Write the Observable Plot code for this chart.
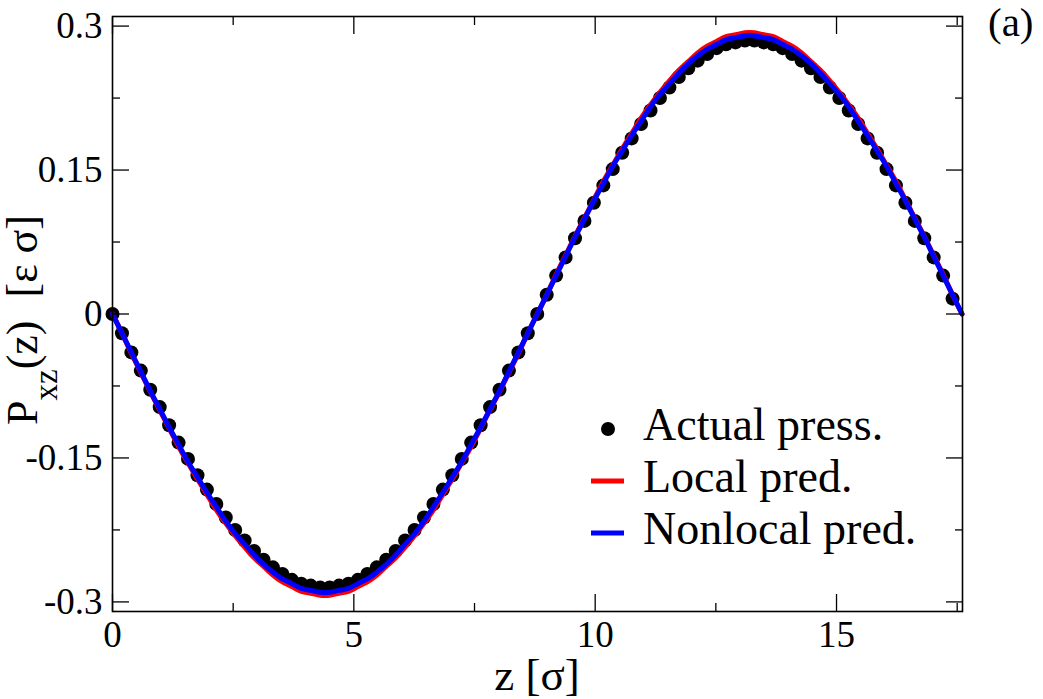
<!DOCTYPE html>
<html>
<head>
<meta charset="utf-8">
<script src="https://cdn.jsdelivr.net/npm/d3@7"></script>
<script src="https://cdn.jsdelivr.net/npm/@observablehq/plot@0.6"></script>
<style>
  html, body { margin: 0; padding: 0; background: white; }
  svg text { white-space: pre; }
</style>
</head>
<body>
<div id="chart"></div>
<script>
// z positions [σ]
const zValues = [0, 0.196, 0.391, 0.587, 0.782, 0.978, 1.173, 1.369, 1.564, 1.760, 1.956, 2.151, 2.347, 2.542, 2.738, 2.933, 3.129, 3.324, 3.520, 3.716, 3.911, 4.107, 4.302, 4.498, 4.693, 4.889, 5.084, 5.280, 5.476, 5.671, 5.867, 6.062, 6.258, 6.453, 6.649, 6.844, 7.040, 7.236, 7.431, 7.627, 7.822, 8.018, 8.213, 8.409, 8.604, 8.800, 8.996, 9.191, 9.387, 9.582, 9.778, 9.973, 10.169, 10.364, 10.560, 10.756, 10.951, 11.147, 11.342, 11.538, 11.733, 11.929, 12.124, 12.320, 12.516, 12.711, 12.907, 13.102, 13.298, 13.493, 13.689, 13.884, 14.080, 14.276, 14.471, 14.667, 14.862, 15.058, 15.253, 15.449, 15.644, 15.840, 16.036, 16.231, 16.427, 16.622, 16.818, 17.013, 17.209, 17.404, 17.600];

// Actual pressure (dots; no sample at the last z)
const actualPress = [0, -0.020, -0.040, -0.059, -0.079, -0.097, -0.116, -0.134, -0.151, -0.168, -0.183, -0.198, -0.212, -0.225, -0.236, -0.247, -0.256, -0.264, -0.271, -0.277, -0.281, -0.283, -0.285, -0.285, -0.283, -0.281, -0.277, -0.271, -0.264, -0.256, -0.247, -0.236, -0.225, -0.212, -0.198, -0.183, -0.168, -0.151, -0.134, -0.116, -0.097, -0.079, -0.059, -0.040, -0.020, 0,
  0.020, 0.040, 0.059, 0.079, 0.097, 0.116, 0.134, 0.151, 0.168, 0.183, 0.198, 0.212, 0.225, 0.236, 0.247, 0.256, 0.264, 0.271, 0.277, 0.281, 0.283, 0.285, 0.285, 0.283, 0.281, 0.277, 0.271, 0.264, 0.256, 0.247, 0.236, 0.225, 0.212, 0.198, 0.183, 0.168, 0.151, 0.134, 0.116, 0.097, 0.079, 0.059, 0.040, 0.016];

// Local prediction (red line)
const localPred = [0, -0.020, -0.041, -0.061, -0.081, -0.100, -0.119, -0.138, -0.155, -0.172, -0.188, -0.204, -0.218, -0.231, -0.243, -0.254, -0.263, -0.272, -0.279, -0.284, -0.289, -0.291, -0.293, -0.293, -0.291, -0.289, -0.284, -0.279, -0.272, -0.263, -0.254, -0.243, -0.231, -0.218, -0.204, -0.188, -0.172, -0.155, -0.138, -0.119, -0.100, -0.081, -0.061, -0.041, -0.020, 0,
  0.020, 0.041, 0.061, 0.081, 0.100, 0.119, 0.138, 0.155, 0.172, 0.188, 0.204, 0.218, 0.231, 0.243, 0.254, 0.263, 0.272, 0.279, 0.284, 0.289, 0.291, 0.293, 0.293, 0.291, 0.289, 0.284, 0.279, 0.272, 0.263, 0.254, 0.243, 0.231, 0.218, 0.204, 0.188, 0.172, 0.155, 0.138, 0.119, 0.100, 0.081, 0.061, 0.041, 0.020, 0];

// Nonlocal prediction (blue line)
const nonlocalPred = [0, -0.020, -0.040, -0.060, -0.080, -0.099, -0.118, -0.136, -0.154, -0.170, -0.186, -0.201, -0.216, -0.229, -0.240, -0.251, -0.261, -0.269, -0.276, -0.281, -0.286, -0.288, -0.290, -0.290, -0.288, -0.286, -0.281, -0.276, -0.269, -0.261, -0.251, -0.240, -0.229, -0.216, -0.201, -0.186, -0.170, -0.154, -0.136, -0.118, -0.099, -0.080, -0.060, -0.040, -0.020, 0,
  0.020, 0.040, 0.060, 0.080, 0.099, 0.118, 0.136, 0.154, 0.170, 0.186, 0.201, 0.216, 0.229, 0.240, 0.251, 0.261, 0.269, 0.276, 0.281, 0.286, 0.288, 0.290, 0.290, 0.288, 0.286, 0.281, 0.276, 0.269, 0.261, 0.251, 0.240, 0.229, 0.216, 0.201, 0.186, 0.170, 0.154, 0.136, 0.118, 0.099, 0.080, 0.060, 0.040, 0.020, 0];

const xMajorTicks = [0, 5, 10, 15];
const xMinorTicks = [2.5, 7.5, 12.5, 17.5];
const yMajorTicks = [-0.3, -0.15, 0, 0.15, 0.3];
const yMinorTicks = [-0.225, -0.075, 0.075, 0.225];
const legendLabels = ["Actual press.", "Local pred.", "Nonlocal pred."];
const seriesColors = ["black", "#ff0000", "#0000ff"];

const dotsData = actualPress.map((p, i) => ({z: zValues[i], p}));
const localData = zValues.map((z, i) => ({z, p: localPred[i]}));
const nonlocalData = zValues.map((z, i) => ({z, p: nonlocalPred[i]}));

const font = "'Liberation Serif', 'Times New Roman', serif";

const plot = Plot.plot({
  width: 1043,
  height: 699,
  marginLeft: 112,
  marginRight: 81,
  marginTop: 16,
  marginBottom: 88,
  style: {fontFamily: font, fontSize: "37px", color: "black", background: "white", overflow: "visible"},
  x: {domain: [0, 17.61], label: null},
  y: {domain: [-0.31, 0.31], label: null},
  marks: [
    Plot.dot(dotsData, {x: "z", y: "p", r: 7, fill: seriesColors[0], stroke: null}),
    Plot.line(localData, {x: "z", y: "p", stroke: seriesColors[1], strokeWidth: 5, curve: "natural"}),
    Plot.line(nonlocalData, {x: "z", y: "p", stroke: seriesColors[2], strokeWidth: 5, curve: "natural"}),
    // labels
    Plot.axisX({ticks: xMajorTicks, tickSize: 0, tickPadding: 9, fontSize: 37, tickFormat: d => String(d), label: null}),
    Plot.axisY({ticks: yMajorTicks, tickSize: 0, tickPadding: 10, fontSize: 37, tickFormat: d => String(d), label: null}),
    // inward ticks, all four sides
    Plot.axisX({anchor: "bottom", ticks: xMajorTicks, tickSize: -17, text: null, label: null, strokeWidth: 1.3}),
    Plot.axisX({anchor: "bottom", ticks: xMinorTicks, tickSize: -8, text: null, label: null, strokeWidth: 1.3}),
    Plot.axisX({anchor: "top", ticks: xMajorTicks, tickSize: -17, text: null, label: null, strokeWidth: 1.3}),
    Plot.axisX({anchor: "top", ticks: xMinorTicks, tickSize: -8, text: null, label: null, strokeWidth: 1.3}),
    Plot.axisY({anchor: "left", ticks: yMajorTicks, tickSize: -17, text: null, label: null, strokeWidth: 1.3}),
    Plot.axisY({anchor: "left", ticks: yMinorTicks, tickSize: -8, text: null, label: null, strokeWidth: 1.3}),
    Plot.axisY({anchor: "right", ticks: yMajorTicks, tickSize: -17, text: null, label: null, strokeWidth: 1.3}),
    Plot.axisY({anchor: "right", ticks: yMinorTicks, tickSize: -8, text: null, label: null, strokeWidth: 1.3}),
    Plot.frame({stroke: "black", strokeWidth: 1.6})
  ]
});

document.getElementById("chart").appendChild(plot);

const svg = d3.select(plot);

// x-axis title
svg.append("text")
  .attr("x", 537).attr("y", 690)
  .attr("text-anchor", "middle")
  .attr("font-family", font).attr("font-size", 45).attr("fill", "black")
  .text("z [σ]");

// y-axis title with subscript
const yl = svg.append("text")
  .attr("transform", "translate(37,425) rotate(-90)")
  .attr("text-anchor", "start")
  .attr("font-family", font).attr("font-size", 44).attr("fill", "black");
yl.append("tspan").text("P");
yl.append("tspan").attr("font-size", 33).attr("dy", 20).text("xz");
yl.append("tspan").attr("dy", -20).text("(z)");
yl.append("tspan").attr("dx", 12).text(" [ε σ]");

// panel label
svg.append("text")
  .attr("x", 988).attr("y", 36)
  .attr("text-anchor", "start")
  .attr("font-family", font).attr("font-size", 41).attr("fill", "black")
  .text("(a)");

// legend
const lg = svg.append("g").attr("font-family", font).attr("font-size", 46).attr("fill", "black").attr("text-anchor", "start");
const rowY = [429, 481, 533];
lg.append("circle").attr("cx", 608).attr("cy", rowY[0]).attr("r", 7).attr("fill", seriesColors[0]);
lg.append("line").attr("x1", 591).attr("x2", 624).attr("y1", rowY[1]).attr("y2", rowY[1]).attr("stroke", seriesColors[1]).attr("stroke-width", 5);
lg.append("line").attr("x1", 591).attr("x2", 624).attr("y1", rowY[2]).attr("y2", rowY[2]).attr("stroke", seriesColors[2]).attr("stroke-width", 5);
legendLabels.forEach((t, i) => {
  lg.append("text").attr("x", 643).attr("y", rowY[i] + 11).attr("text-anchor", "start").text(t);
});
</script>
</body>
</html>
